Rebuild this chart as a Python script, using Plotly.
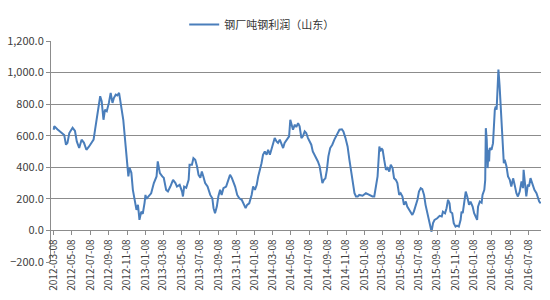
import pandas as pd
import plotly.graph_objects as go

series_name = "钢厂吨钢利润（山东）"
start_date = "2012-03-08"

# days since 2012-03-08
day_offsets = [
    0, 2, 13, 24, 35, 41, 46, 52, 63, 71, 77, 85, 93, 101, 109, 118, 126, 133, 138, 146,
    155, 160, 166, 171, 177, 184, 190, 196, 201, 207, 212, 218, 226, 232, 240, 245, 249, 253, 259, 264,
    270, 276, 281, 286, 292, 297, 303, 306, 309, 317, 325, 334, 343, 347, 354, 362, 367, 375, 381, 389,
    398, 406, 411, 420, 428, 431, 435, 442, 450, 453, 461, 466, 472, 478, 483, 489, 494, 499, 505, 513,
    522, 529, 533, 538, 544, 549, 555, 560, 566, 575, 582, 588, 594, 599, 605, 612, 619, 627, 632, 640,
    645, 652, 660, 665, 671, 677, 682, 688, 693, 698, 704, 710, 715, 721, 726, 732, 737, 743, 748, 754,
    760, 765, 770, 778, 785, 789, 798, 804, 809, 815, 820, 826, 831, 837, 842, 848, 853, 859, 864, 870,
    876, 881, 887, 892, 896, 901, 906, 911, 916, 922, 929, 936, 944, 953, 961, 966, 973, 980, 986, 992,
    997, 1003, 1008, 1014, 1019, 1030, 1041, 1052, 1063, 1069, 1075, 1080, 1086, 1089, 1093, 1097, 1102, 1108, 1113, 1119,
    1124, 1130, 1135, 1141, 1146, 1152, 1157, 1163, 1168, 1174, 1179, 1185, 1190, 1196, 1201, 1207, 1213, 1218, 1224, 1229,
    1235, 1240, 1246, 1251, 1257, 1260, 1265, 1270, 1279, 1287, 1294, 1298, 1305, 1310, 1315, 1320, 1323, 1329, 1334, 1340,
    1345, 1351, 1357, 1360, 1364, 1374, 1379, 1385, 1390, 1397, 1402, 1408, 1412, 1415, 1421, 1427, 1430, 1436, 1439, 1441,
    1444, 1447, 1450, 1452, 1454, 1460, 1465, 1471, 1474, 1477, 1480, 1483, 1487, 1490, 1493, 1497, 1501, 1504, 1510, 1515,
    1521, 1526, 1532, 1537, 1543, 1548, 1554, 1560, 1565, 1567, 1572, 1576, 1581, 1585, 1590, 1597, 1603, 1610, 1613, 1619,
    1624,
]

profit = [
    638, 660, 640, 620, 605, 543, 555, 617, 650, 630, 564, 522, 575, 555, 511, 532, 554, 575, 638, 754,
    850, 818, 701, 765, 755, 808, 871, 808, 840, 860, 855, 871, 786, 701, 532, 405, 342, 397, 365, 257,
    194, 130, 162, 67, 119, 105, 175, 225, 200, 215, 235, 300, 342, 437, 363, 342, 333, 257, 247, 278,
    320, 300, 278, 289, 246, 215, 278, 270, 320, 416, 416, 458, 448, 405, 352, 333, 373, 342, 300, 278,
    225, 204, 141, 109, 151, 215, 257, 225, 268, 278, 320, 352, 333, 310, 278, 225, 204, 194, 173, 141,
    162, 172, 225, 278, 257, 289, 342, 384, 426, 479, 500, 479, 511, 480, 511, 543, 585, 564, 555, 575,
    543, 522, 554, 575, 596, 701, 638, 670, 655, 680, 660, 585, 596, 627, 617, 585, 564, 543, 500, 479,
    458, 437, 405, 342, 300, 320, 330, 384, 469, 522, 543, 575, 606, 638, 641, 627, 585, 532, 448, 363,
    300, 236, 215, 215, 225, 220, 236, 225, 215, 215, 278, 342, 532, 500, 520, 510, 448, 384, 395, 373,
    416, 395, 331, 320, 300, 225, 236, 215, 162, 183, 151, 130, 119, 98, 119, 151, 194, 246, 268, 262,
    225, 162, 109, 67, 24, -8, 46, 67, 77, 92, 88, 119, 109, 141, 194, 172, 119, 109, 46, 24,
    30, 24, 67, 119, 110, 246, 215, 162, 183, 151, 109, 88, 67, 151, 183, 175, 225, 257, 320, 648,
    575, 395, 511, 437, 522, 511, 553, 765, 785, 765, 956, 1019, 913, 818, 660, 553, 426, 448, 405, 342,
    320, 278, 330, 290, 236, 215, 246, 310, 268, 384, 300, 215, 290, 278, 331, 290, 257, 236, 215, 183,
    172,
]

tick_labels = [
    "2012-03-08", "2012-05-08", "2012-07-08", "2012-09-08", "2012-11-08",
    "2013-01-08", "2013-03-08", "2013-05-08", "2013-07-08", "2013-09-08", "2013-11-08",
    "2014-01-08", "2014-03-08", "2014-05-08", "2014-07-08", "2014-09-08", "2014-11-08",
    "2015-01-08", "2015-03-08", "2015-05-08", "2015-07-08", "2015-09-08", "2015-11-08",
    "2016-01-08", "2016-03-08", "2016-05-08", "2016-07-08",
]

y_min, y_max, y_step = -200, 1200, 200

dates = pd.Timestamp(start_date) + pd.to_timedelta(day_offsets, unit="D")

line_color = "#4A7EBB"
grid_color = "#8C8C8C"
font_family = "Noto Sans CJK SC, Noto Sans, sans-serif"

fig = go.Figure()
fig.add_trace(go.Scatter(
    x=dates, y=profit, mode="lines", name=series_name,
    line=dict(color=line_color, width=2),
))

fig.update_layout(
    width=550, height=300,
    margin=dict(l=51, r=9, t=41, b=38, pad=0),
    paper_bgcolor="white", plot_bgcolor="white",
    font=dict(family=font_family, color="#404040"),
    showlegend=True,
    legend=dict(
        orientation="h", x=0.43, xanchor="center", y=1.075, yanchor="middle",
        font=dict(size=11, color="#333333", family=font_family),
        itemwidth=30, bgcolor="rgba(0,0,0,0)",
    ),
    xaxis=dict(
        type="date",
        range=["2012-02-28", "2016-08-19"],
        tickmode="array", tickvals=tick_labels, ticktext=tick_labels,
        tickangle=-90, tickfont=dict(size=10, color="#404040"),
        anchor="free", position=(0 - y_min) / (y_max - y_min),
        showline=True, linecolor=grid_color, linewidth=1,
        ticks="outside", ticklen=4, tickcolor=grid_color,
        showgrid=False, zeroline=False, automargin=False,
    ),
    yaxis=dict(
        range=[y_min, y_max], dtick=y_step, tick0=0,
        tickformat=",.1f", tickfont=dict(size=11, color="#404040"),
        showgrid=True, gridcolor=grid_color, gridwidth=1,
        showline=True, linecolor=grid_color, linewidth=1,
        ticks="outside", ticklen=4, tickcolor=grid_color,
        zeroline=False, automargin=False,
    ),
)

fig.write_html("out.html")
